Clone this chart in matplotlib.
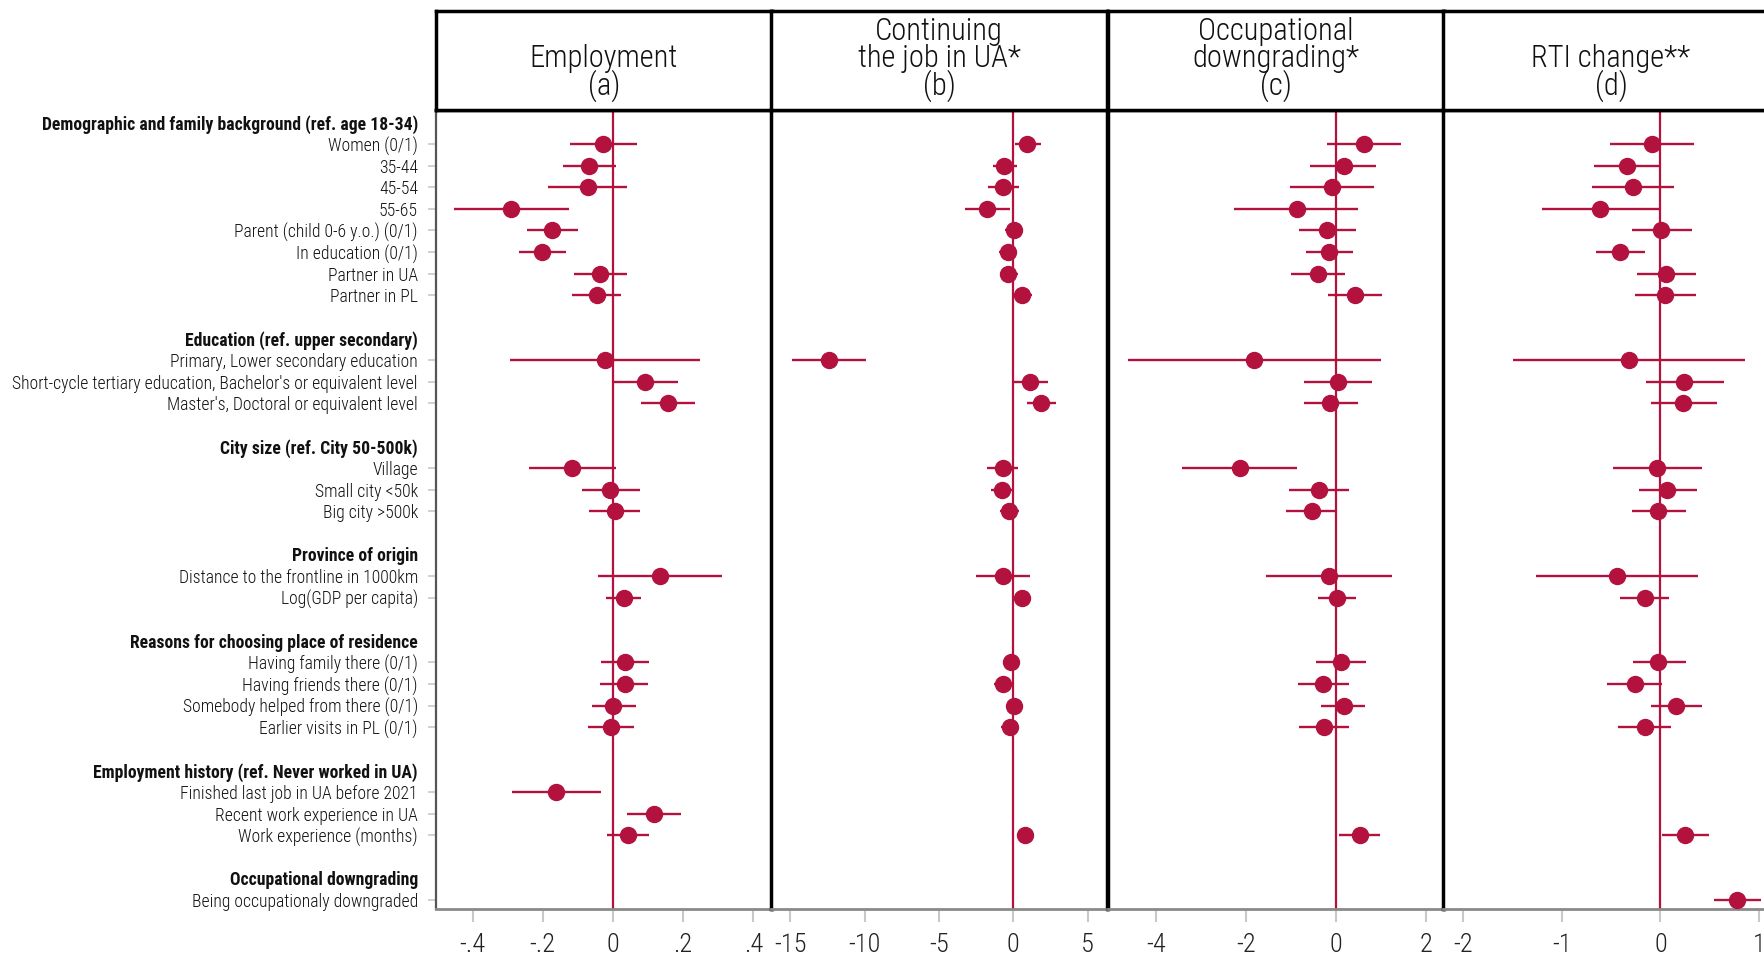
import numpy as np
import matplotlib.pyplot as plt
from matplotlib import font_manager

# Procura uma fonte estreita instalada
familias = sorted({f.name for f in font_manager.fontManager.ttflist})
preferidas = ['Roboto Condensed', 'Liberation Sans Narrow', 'Noto Sans Condensed',
              'DejaVu Sans Condensed', 'Open Sans Condensed']
estreitas = [n for n in preferidas if n in familias]
estreitas += [n for n in familias if ('Condensed' in n or 'Narrow' in n) and n not in estreitas]
fonte = estreitas[0] if estreitas else 'Roboto'
plt.rcParams['font.family'] = [fonte, 'DejaVu Sans']
escala = 1.0 if estreitas else 0.86

nan = np.nan

# Grupos e variáveis
grupos = [
    "Demographic and family background (ref. age 18-34)",
    "Education (ref. upper secondary)",
    "City size (ref. City 50-500k)",
    "Province of origin",
    "Reasons for choosing place of residence",
    "Employment history (ref. Never worked in UA)",
    "Occupational downgrading",
]
itens = [
    ["Women (0/1)", "35-44", "45-54", "55-65", "Parent (child 0-6 y.o.) (0/1)",
     "In education (0/1)", "Partner in UA", "Partner in PL"],
    ["Primary, Lower secondary education",
     "Short-cycle tertiary education, Bachelor's or equivalent level",
     "Master's, Doctoral or equivalent level"],
    ["Village", "Small city <50k", "Big city >500k"],
    ["Distance to the frontline in 1000km", "Log(GDP per capita)"],
    ["Having family there (0/1)", "Having friends there (0/1)",
     "Somebody helped from there (0/1)", "Earlier visits in PL (0/1)"],
    ["Finished last job in UA before 2021", "Recent work experience in UA",
     "Work experience (months)"],
    ["Being occupationaly downgraded"],
]

# (a) Employment
emp_coef = [-0.027, -0.068, -0.072, -0.289, -0.173, -0.201, -0.036, -0.046,
            -0.023, 0.092, 0.156, -0.116, -0.007, 0.006, 0.135, 0.031,
            0.035, 0.033, 0.001, -0.006, -0.161, 0.117, 0.043, nan]
emp_lo = [-0.122, -0.143, -0.184, -0.454, -0.246, -0.267, -0.111, -0.118,
          -0.293, 0.003, 0.081, -0.240, -0.088, -0.067, -0.042, -0.019,
          -0.033, -0.036, -0.060, -0.072, -0.288, 0.040, -0.017, nan]
emp_hi = [0.069, 0.008, 0.041, -0.124, -0.099, -0.135, 0.039, 0.023,
          0.248, 0.184, 0.235, 0.008, 0.076, 0.078, 0.312, 0.081,
          0.102, 0.101, 0.065, 0.059, -0.035, 0.195, 0.103, nan]

# (b) Continuing the job in UA
cont_coef = [0.90, -0.61, -0.70, -1.75, 0.04, -0.38, -0.34, 0.61,
             -12.41, 1.14, 1.89, -0.72, -0.74, -0.27, -0.70, 0.58,
             -0.13, -0.67, 0.07, -0.22, nan, nan, 0.76, nan]
cont_lo = [0.11, -1.37, -1.71, -3.28, -0.54, -0.94, -0.90, -0.09,
           -14.90, 0.07, 0.90, -1.75, -1.50, -0.90, -2.49, 0.25,
           -0.72, -1.30, -0.47, -0.85, nan, nan, 0.40, nan]
cont_hi = [1.89, 0.22, 0.38, -0.22, 0.67, 0.27, 0.31, 1.28,
           -9.90, 2.31, 2.85, 0.29, 0.00, 0.36, 1.14, 0.95,
           0.45, -0.09, 0.63, 0.40, nan, nan, 1.15, nan]

# (c) Occupational downgrading
down_coef = [0.62, 0.17, -0.09, -0.88, -0.21, -0.16, -0.40, 0.41,
             -1.82, 0.03, -0.13, -2.15, -0.38, -0.55, -0.17, 0.01,
             0.10, -0.30, 0.16, -0.27, nan, nan, 0.52, nan]
down_lo = [-0.20, -0.58, -1.02, -2.27, -0.84, -0.67, -1.00, -0.19,
           -4.62, -0.72, -0.72, -3.43, -1.05, -1.11, -1.56, -0.41,
           -0.45, -0.86, -0.35, -0.83, nan, nan, 0.06, nan]
down_hi = [1.43, 0.89, 0.83, 0.49, 0.43, 0.38, 0.20, 1.01,
           1.00, 0.79, 0.47, -0.88, 0.29, 0.00, 1.24, 0.44,
           0.66, 0.27, 0.64, 0.27, nan, nan, 0.98, nan]

# (d) RTI change
rti_coef = [-0.085, -0.335, -0.28, -0.61, 0.01, -0.41, 0.06, 0.05,
            -0.32, 0.24, 0.23, -0.03, 0.07, -0.02, -0.44, -0.16,
            -0.02, -0.26, 0.16, -0.16, nan, nan, 0.25, 0.78]
rti_lo = [-0.51, -0.67, -0.69, -1.20, -0.29, -0.65, -0.24, -0.26,
          -1.49, -0.15, -0.10, -0.48, -0.22, -0.29, -1.26, -0.41,
          -0.28, -0.54, -0.10, -0.43, nan, nan, 0.02, 0.54]
rti_hi = [0.34, -0.01, 0.14, -0.01, 0.32, -0.16, 0.36, 0.36,
          0.86, 0.64, 0.57, 0.42, 0.37, 0.26, 0.38, 0.09,
          0.26, 0.02, 0.42, 0.11, nan, nan, 0.49, 1.02]

titulos = ["Employment\n(a)", "Continuing\nthe job in UA*\n(b)",
           "Occupational\ndowngrading*\n(c)", "RTI change**\n(d)"]
ticks = [[-0.4, -0.2, 0, 0.2, 0.4], [-15, -10, -5, 0, 5], [-4, -2, 0, 2], [-2, -1, 0, 1]]
ticklabels = [['-.4', '-.2', '0', '.2', '.4'], ['-15', '-10', '-5', '0', '5'],
              ['-4', '-2', '0', '2'], ['-2', '-1', '0', '1']]
limites = [(-0.504, 0.453), (-16.31, 6.31), (-5.07, 2.39), (-2.2, 1.2)]

series = [(emp_coef, emp_lo, emp_hi), (cont_coef, cont_lo, cont_hi),
          (down_coef, down_lo, down_hi), (rti_coef, rti_lo, rti_hi)]

# Posições das linhas
rotulos, pos_rot, negrito, pos_itens = [], [], [], []
linha = 0
for g, lista in zip(grupos, itens):
    rotulos.append(g); pos_rot.append(linha); negrito.append(True)
    linha += 1
    for it in lista:
        rotulos.append(it); pos_rot.append(linha); negrito.append(False)
        pos_itens.append(linha)
        linha += 1
    linha += 1
ultima = pos_rot[-1]
pos_itens = np.array(pos_itens)

cor = '#B3123E'
W, H = 1764, 957
fig = plt.figure(figsize=(W / 100, H / 100), dpi=100)

lefts = [436, 771, 1108, 1443]
largura = 336
topo, base_cab, fundo = 11, 110, 909

for i in range(4):
    x0 = lefts[i]
    ax = fig.add_axes([x0 / W, 1 - fundo / H, largura / W, (fundo - base_cab) / H])
    cab = fig.add_axes([x0 / W, 1 - base_cab / H, largura / W, (base_cab - topo) / H])

    # Cabeçalho
    cab.set_xticks([]); cab.set_yticks([])
    for s in cab.spines.values():
        s.set_linewidth(2.5); s.set_color('black')
    cab.text(0.5, 0.08, titulos[i], ha='center', va='bottom', fontsize=22 * escala,
             fontweight='light', linespacing=0.88, transform=cab.transAxes,
             color='#111111')

    coef, lo, hi = [np.array(v, dtype=float) for v in series[i]]
    ok = ~np.isnan(coef)
    ax.axvline(0, color=cor, lw=1.6, zorder=1)
    ax.hlines(pos_itens[ok], lo[ok], hi[ok], color=cor, lw=1.7, zorder=2)
    ax.plot(coef[ok], pos_itens[ok], 'o', color=cor, ms=11.5, zorder=3)

    ax.set_xlim(*limites[i])
    ax.set_ylim(ultima + 0.42, -0.57)
    ax.set_xticks(ticks[i])
    ax.set_xticklabels(ticklabels[i], fontsize=19 * escala, color='#222222',
                       fontweight='light')
    ax.tick_params(axis='x', length=9, width=1.5, color='#c8c8c8', pad=8)

    for lado in ['top', 'right', 'left']:
        ax.spines[lado].set_linewidth(2.5)
        ax.spines[lado].set_color('black')
    ax.spines['bottom'].set_color('#8a8a8a')
    ax.spines['bottom'].set_linewidth(2)

    if i == 0:
        ax.spines['left'].set_color('#555555')
        ax.spines['left'].set_linewidth(1.6)
        ax.set_yticks(pos_rot)
        ax.set_yticklabels(rotulos, fontsize=12.7 * escala, color='#111111')
        ax.tick_params(axis='y', length=6, width=1.2, color='#c8c8c8', pad=7)
        for tk, b in zip(ax.yaxis.get_major_ticks(), negrito):
            if b:
                tk.tick1line.set_visible(False)
                tk.label1.set_fontweight('bold')
            else:
                tk.label1.set_fontweight('light')
    else:
        ax.set_yticks([])

fig.savefig('out.png', dpi=100)
